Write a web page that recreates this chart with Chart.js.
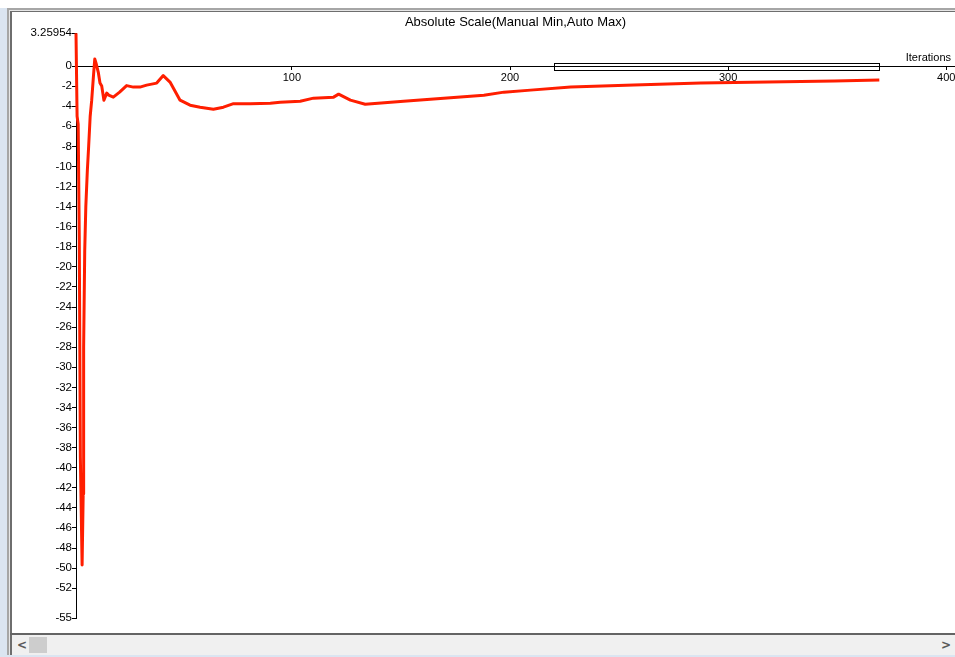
<!DOCTYPE html>
<html>
<head>
<meta charset="utf-8">
<script src="https://cdn.jsdelivr.net/npm/chart.js@4.4.1/dist/chart.umd.min.js"></script>
<style>
html, body { margin: 0; padding: 0; background: #ffffff; width: 955px; height: 657px; overflow: hidden; font-family: "Liberation Sans", Arial, sans-serif; }
#strip { position: absolute; left: 0; top: 8px; width: 955px; height: 649px; background: #dbe5f1; }
#f1 { position: absolute; left: 7px; top: 8px; width: 948px; height: 647px; background: #a6a6a6; }
#f2 { position: absolute; left: 9px; top: 10px; width: 946px; height: 645px; background: #e6e6e6; }
#f3 { position: absolute; left: 10px; top: 11px; width: 945px; height: 644px; background: #6e6e6e; }
#plot { position: absolute; left: 12px; top: 12px; width: 943px; height: 621px; background: #ffffff; }
#bline { position: absolute; left: 10px; top: 633px; width: 945px; height: 2px; background: #646464; }
#sb { position: absolute; left: 12px; top: 635px; width: 943px; height: 20px; background: #f0f0f0; }
#thumb { position: absolute; left: 17px; top: 2px; width: 18px; height: 16px; background: #cdcdcd; }
.arr { position: absolute; top: 2px; font: bold 12px "DejaVu Sans", sans-serif; color: #5a5a5a; line-height: 16px; }
#chart { position: absolute; left: 12px; top: 13px; }
</style>
</head>
<body>
<div id="strip"></div>
<div id="f1"></div>
<div id="f2"></div>
<div id="f3"></div>
<div id="plot"></div>
<canvas id="chart" width="943" height="620"></canvas>
<div id="bline"></div>
<div id="sb"><span class="arr" style="left:5px;">&lt;</span><div id="thumb"></div><span class="arr" style="left:929px;">&gt;</span></div>
<script>
const titleText = 'Absolute Scale(Manual Min,Auto Max)';
const xAxisLabel = 'Iterations';

const iterations = [
  1, 1.5, 2, 2.5, 3, 3.8, 4.3, 4.5, 5, 5.5,
  6.2, 6.8, 7.5, 8.2, 9, 9.6, 10.3, 11.2, 12, 12.8,
  13.8, 15.1, 16, 18.1, 21, 24.2, 27.3, 30.3, 33.4, 38,
  41, 44.1, 48.7, 53.3, 57.9, 64, 68.6, 73.2, 80.9, 90.1,
  94.6, 103.8, 109.9, 119.1, 121.4, 126.8, 133.6, 151.2, 169.6, 188,
  197.2, 209.4, 227.8, 256.8, 287.5, 318.1, 348.7, 369.3
];
const values = [
  3.26, -5.0, -5.8, -17, -39, -49.7, -42.6, -28, -18.4, -14,
  -10.4, -8, -5, -3.4, -1, 0.7, 0.2, -0.6, -1.7, -2.0,
  -3.4, -2.7, -2.9, -3.1, -2.6, -1.95, -2.1, -2.1, -1.9, -1.7,
  -0.95, -1.6, -3.4, -3.9, -4.1, -4.3, -4.1, -3.75, -3.75, -3.7,
  -3.6, -3.5, -3.2, -3.1, -2.8, -3.4, -3.8, -3.5, -3.2, -2.9,
  -2.6, -2.4, -2.1, -1.9, -1.7, -1.6, -1.5, -1.4
];

const yTickValues = [3.25954, 0, -2, -4, -6, -8, -10, -12, -14, -16, -18, -20, -22, -24, -26, -28,
  -30, -32, -34, -36, -38, -40, -42, -44, -46, -48, -50, -52, -55];
const xTickValues = [100, 200, 300, 400];

const yMin = -55;
const yMax = 3.25954;
const xMin = 1;
const xMax = 404;
const windowStart = 220;
const windowEnd = 369;

const overlay = {
  id: 'overlay',
  afterDraw(chart) {
    const ctx = chart.ctx;
    const xs = chart.scales.x;
    const ys = chart.scales.y;
    const y0 = Math.round(ys.getPixelForValue(0));
    const x1 = Math.round(xs.getPixelForValue(windowStart));
    const x2 = Math.round(xs.getPixelForValue(windowEnd));
    ctx.save();
    ctx.strokeStyle = '#000';
    ctx.lineWidth = 1;
    ctx.strokeRect(x1 + 0.5, y0 - 2.5, x2 - x1, 7);
    ctx.fillStyle = '#000';
    ctx.font = '11px "Liberation Sans", Arial, sans-serif';
    ctx.textAlign = 'right';
    ctx.textBaseline = 'alphabetic';
    ctx.fillText(xAxisLabel, chart.chartArea.right - 4, y0 - 5);
    ctx.restore();
  }
};

const xTickFont = { family: '"Liberation Sans", Arial, sans-serif', size: 11 };
const yTickFont = { family: '"Liberation Sans", Arial, sans-serif', size: 11.5 };

new Chart(document.getElementById('chart'), {
  type: 'line',
  data: {
    datasets: [{
      data: iterations.map((x, i) => ({ x: x, y: values[i] })),
      borderColor: '#ff1e00',
      borderWidth: 3,
      pointRadius: 0,
      tension: 0,
      fill: false,
      borderJoinStyle: 'round',
      clip: 4
    }]
  },
  options: {
    responsive: false,
    animation: false,
    devicePixelRatio: 1,
    layout: { padding: { top: 0, left: 0, right: 0, bottom: 14.7 } },
    plugins: {
      legend: { display: false },
      tooltip: { enabled: false },
      title: {
        display: true,
        text: titleText,
        fullSize: false,
        color: '#000',
        font: { family: '"Liberation Sans", Arial, sans-serif', size: 13, weight: 'normal' },
        padding: { top: 1.5, bottom: 3.2 }
      }
    },
    scales: {
      x: {
        type: 'linear',
        min: xMin,
        max: xMax,
        position: { y: 0 },
        afterBuildTicks: s => { s.ticks = xTickValues.map(v => ({ value: v })); },
        afterFit: s => { s.paddingLeft = 0; s.paddingRight = 0; },
        grid: { drawOnChartArea: false, drawTicks: true, tickLength: 3, tickColor: '#000', color: '#000' },
        border: { display: true, color: '#000', width: 1 },
        ticks: { padding: 2, color: '#000', font: xTickFont, maxRotation: 0, autoSkip: false }
      },
      y: {
        type: 'linear',
        min: yMin,
        max: yMax,
        position: 'left',
        afterBuildTicks: s => { s.ticks = yTickValues.map(v => ({ value: v })); },
        afterFit: s => { s.width = 64; s.paddingTop = 0; s.paddingBottom = 0; },
        grid: { drawOnChartArea: false, drawTicks: true, tickLength: 4, tickColor: '#000', color: '#000' },
        border: { display: true, color: '#000', width: 1 },
        ticks: { padding: 0, color: '#000', font: yTickFont, autoSkip: false, callback: v => String(v) }
      }
    }
  },
  plugins: [overlay]
});
</script>
</body>
</html>
